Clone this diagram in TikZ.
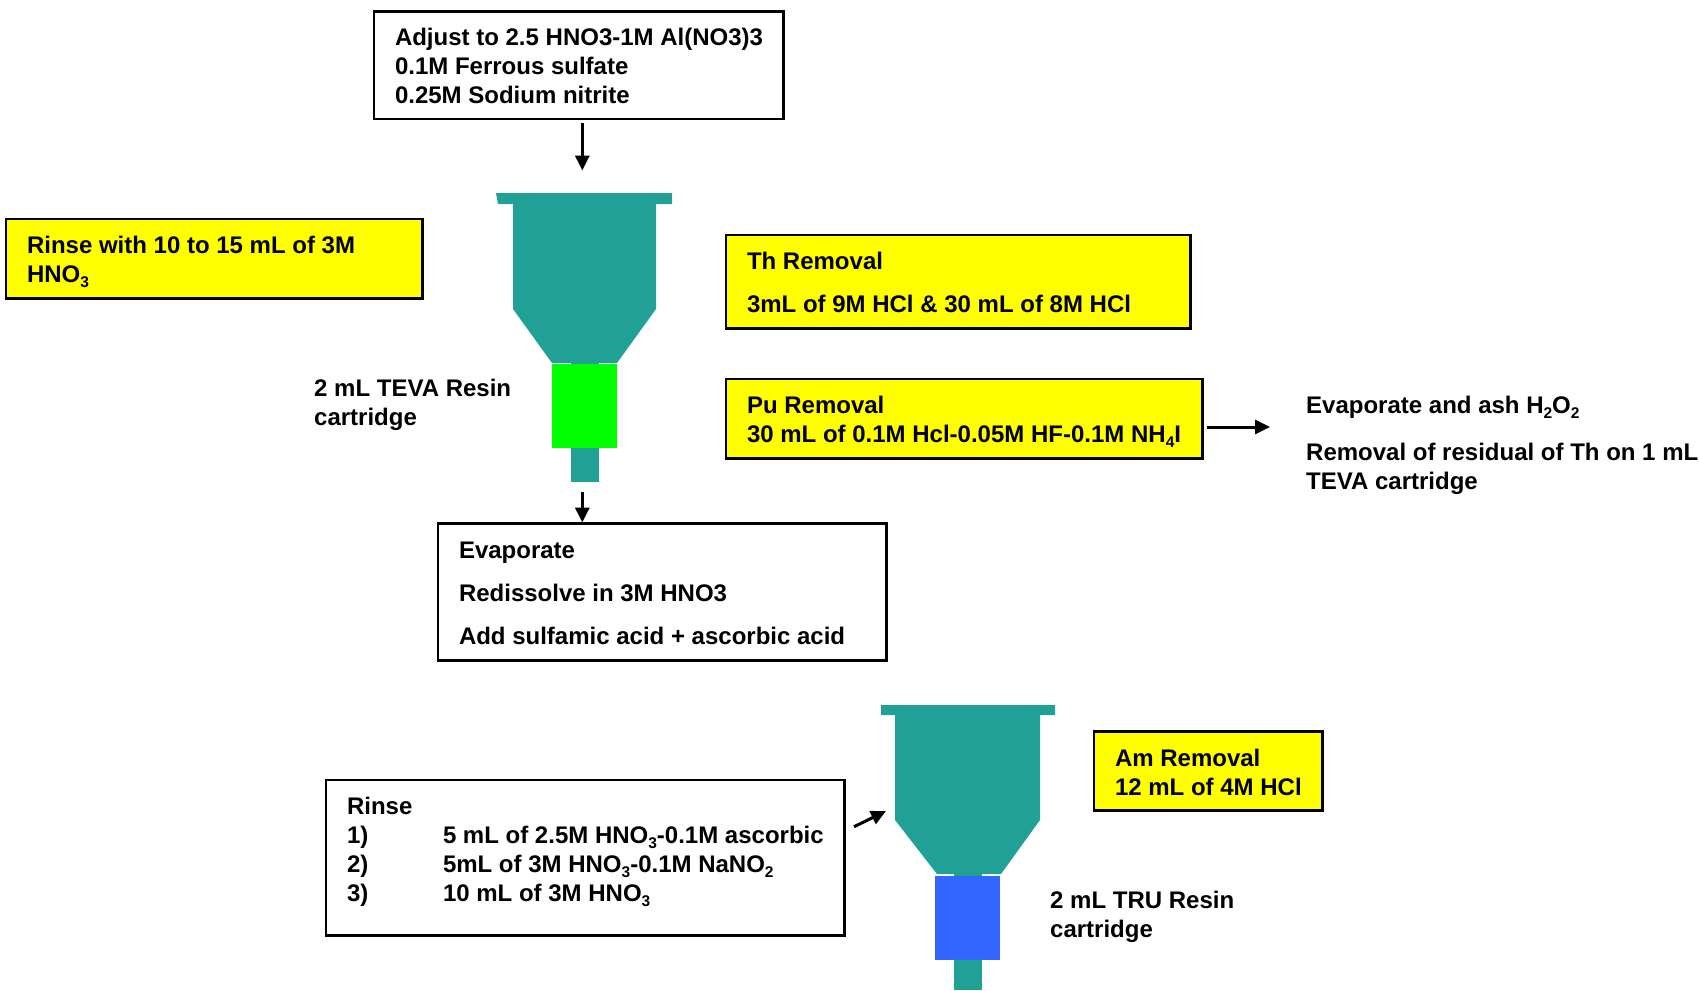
\documentclass[tikz,border=0pt]{standalone}
\usepackage{fontspec}
\setmainfont{Liberation Sans}
\usetikzlibrary{arrows.meta}
\definecolor{funnelteal}{RGB}{33,160,150}
\definecolor{resinblue}{RGB}{51,102,255}
\definecolor{resingreen}{RGB}{0,255,0}
\definecolor{notey}{RGB}{255,255,0}
\newcommand{\sbs}[1]{\raisebox{-4.5pt}{\fontsize{15.5}{15}\selectfont #1}}
\newcommand{\boxtxt}[4]{\parbox[c][#2pt][t]{#1pt}{\raggedright\leftskip=21pt\relax\parskip=0pt\vspace*{#3pt}\strut #4}}
\newcommand{\itm}[2]{\makebox[96pt][l]{#1}#2}
\tikzset{
  txt/.style={font=\bfseries\fontsize{24}{29}\selectfont},
  whitebox/.style={txt,draw=black,line width=2.8pt,fill=white,inner sep=0pt,outer sep=0pt,anchor=north west},
  yellowbox/.style={whitebox,fill=notey},
  plainlabel/.style={txt,align=left,inner sep=0pt,anchor=north west},
  tealpart/.style={fill=funnelteal,draw=none},
  resinpart/.style={draw=none,inner sep=0pt,outer sep=0pt,anchor=north west},
  arr/.style={line width=3pt,-{Triangle[length=15pt,width=14pt]}},
}
\begin{document}
\begin{tikzpicture}[x=1pt,y=-1pt]
\useasboundingbox (0,0) rectangle (1699,990);

% boxes
\node[whitebox] (top) at (374,11.5) {\boxtxt{409.5}{107.5}{14}{Adjust to 2.5 HNO3-1M Al(NO3)3\\0.1M Ferrous sulfate\\0.25M Sodium nitrite}};
\node[yellowbox] (rinseY) at (6,219) {\boxtxt{416.5}{79.5}{14.5}{Rinse with 10 to 15 mL of 3M\\HNO\sbs{3}}};
\node[yellowbox] (th) at (726,235) {\boxtxt{464.5}{93.5}{14.5}{Th Removal\\[14pt]3mL of 9M HCl \& 30 mL of 8M HCl}};
\node[yellowbox] (pu) at (726,379) {\boxtxt{476.5}{79.5}{14.5}{Pu Removal\\30 mL of 0.1M Hcl-0.05M HF-0.1M NH\sbs{4}I}};
\node[whitebox] (evap) at (438,523.5) {\boxtxt{448.5}{137}{14.5}{Evaporate\\[14pt]Redissolve in 3M HNO3\\[14pt]Add sulfamic acid + ascorbic acid}};
\node[yellowbox] (am) at (1094,731.5) {\boxtxt{228.5}{79}{14.5}{Am Removal\\12 mL of 4M HCl}};
\node[whitebox] (rinse) at (326,780) {\boxtxt{518.5}{155.5}{14.5}{Rinse\\\itm{1)}{5 mL of 2.5M HNO\sbs{3}-0.1M ascorbic}\\\itm{2)}{5mL of 3M HNO\sbs{3}-0.1M NaNO\sbs{2}}\\\itm{3)}{10 mL of 3M HNO\sbs{3}}}};

% funnel A
\node[resinpart,fill=funnelteal,minimum width=28pt,minimum height=120pt] (stemA) at (571,362) {};
\fill[tealpart] (496,193) -- (672,193) -- (672,204) -- (656,204) -- (656,309) -- (617,363) -- (552,363) -- (513,309) -- (513,204) -- (498,204) -- cycle;
\node[resinpart,fill=resingreen,minimum width=65pt,minimum height=84pt] (resinA) at (552,364) {};
\coordinate (rimA) at (582.3,193);

% funnel B
\node[resinpart,fill=funnelteal,minimum width=28pt,minimum height=116pt] (stemB) at (954,874) {};
\fill[tealpart] (881,705) -- (1055,705) -- (1055,715) -- (1040,715) -- (1040,820) -- (1001,874) -- (937,874) -- (895,820) -- (895,715) -- (881,715) -- cycle;
\node[resinpart,fill=resinblue,minimum width=65pt,minimum height=84pt] (resinB) at (935,876) {};
\coordinate (shoulderB) at (895,820);

% labels
\node[plainlabel] (tevaL) at (314,379) {2 mL TEVA Resin\\cartridge};
\node[plainlabel] (truL) at (1050,891) {2 mL TRU Resin\\cartridge};
\node[plainlabel] (resid) at (1306,396) {Evaporate and ash H\sbs{2}O\sbs{2}\\[18pt]Removal of residual of Th on 1 mL\\TEVA cartridge};

% connectors
\draw[arr,shorten <=4pt,shorten >=22.5pt] (top.south -| rimA) -- (rimA);
\draw[arr,shorten <=10pt,shorten >=1pt] (stemA.south -| rimA) -- (evap.north -| rimA);
\draw[arr,shorten <=4pt,shorten >=36pt] (pu.east |- 0,427) -- (resid.west |- 0,427);
\draw[arr] ([xshift=9.5pt,yshift=31pt]rinse.east) -- ([xshift=-9pt,yshift=9pt]shoulderB);
\end{tikzpicture}
\end{document}
